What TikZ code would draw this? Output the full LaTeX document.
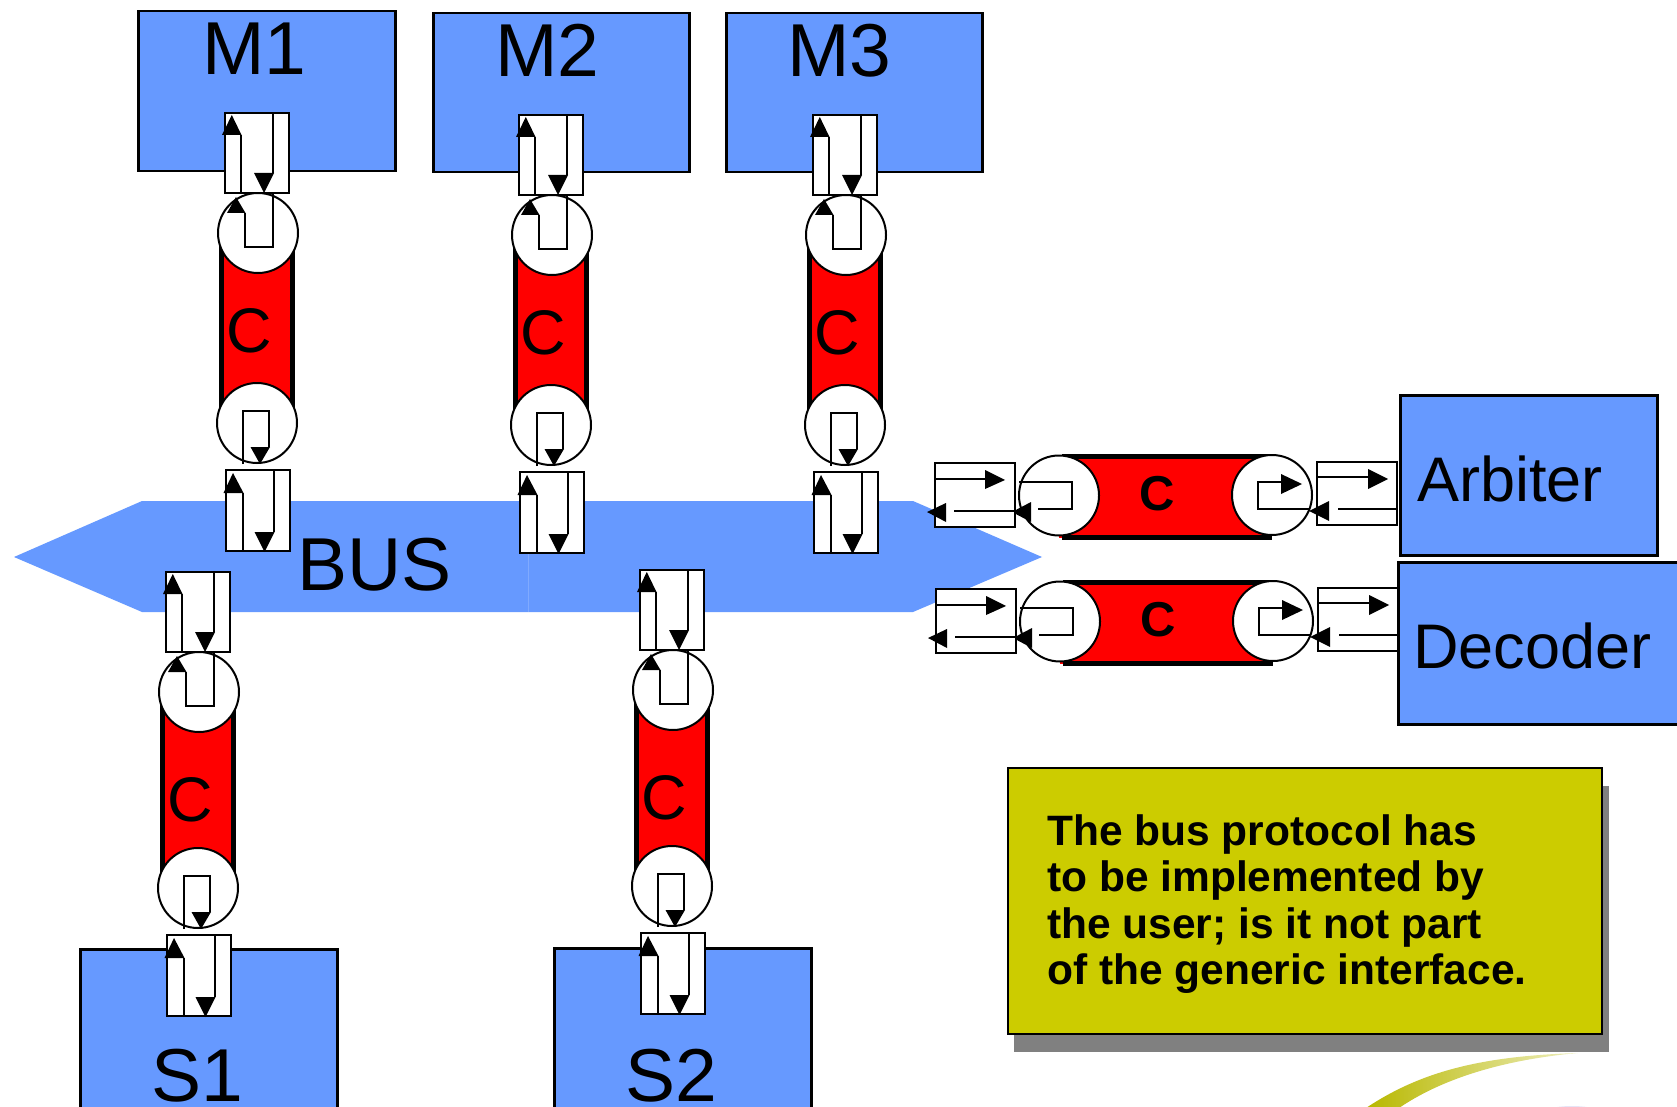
\documentclass[tikz,border=0pt]{standalone}
\usepackage{fontspec}
\setmainfont{Liberation Sans}

\definecolor{blockblue}{RGB}{102,153,255}
\definecolor{seamblue}{RGB}{128,170,255}
\definecolor{noteyellow}{RGB}{204,204,0}
\definecolor{shadowgray}{RGB}{128,128,128}
\definecolor{swoosholive}{RGB}{184,184,0}
\definecolor{swooshpale}{RGB}{238,238,190}
\definecolor{lavender}{RGB}{230,228,246}

\tikzset{
  block/.style={draw=black, line width=2.5pt, fill=blockblue, inner sep=0pt},
  portbox/.style={draw=black, line width=2pt, fill=white},
  wire/.style={draw=black, line width=2pt},
  endcap/.style={draw=black, line width=2pt, fill=white},
  bigname/.style={font=\fontsize{75}{80}\selectfont, inner sep=0pt},
  sidename/.style={font=\fontsize{63}{66}\selectfont, inner sep=0pt},
  chanlabel/.style={font=\fontsize{63}{66}\selectfont, inner sep=0pt},
  hchanlabel/.style={font=\fontsize{49}{52}\selectfont\bfseries, inner sep=0pt},
  notetext/.style={font=\fontsize{42.5}{46.5}\selectfont\bfseries, inner sep=0pt, align=left},
}

% Vertical channel: #1 label name, #2 centre x, #3 top of upper port,
% #4 offset of lower end cap, #5 offset of the label
\newcommand\vchan[5]{%
\begin{scope}[shift={(#2,#3)}]
  % cylinder body
  \fill[red] (-38,120) rectangle (38,#4);
  \draw[line width=5pt] (-35.5,120) -- (-35.5,#4) (35.5,120) -- (35.5,#4+4);
  % end caps
  \draw[endcap] (1,120) circle (40pt);
  \draw[endcap] (0,#4) circle (40pt);
  % upper cap: loop back
  \draw[wire] (16,80) -- (16,134) -- (-12.5,134) -- (-12.5,100);
  \fill (-30,100) -- (-11.5,100) -- (-21,84) -- cycle;
  % lower cap: loop forward
  \draw[wire] (-14,#4+41) -- (-14,#4-12) -- (12,#4-12) -- (12,#4+24);
  \fill (-6.5,#4+24) -- (13,#4+24) -- (3,#4+41) -- cycle;
  % upper port
  \draw[portbox] (-32,0) rectangle (32,80);
  \draw[wire] (-16.5,80) -- (-16.5,22);
  \fill (-35,22) -- (-15.5,22) -- (-25.2,2) -- cycle;
  \draw[wire] (16,0) -- (16,60);
  \fill (-3,60) -- (17,60) -- (7,80) -- cycle;
  % lower port
  \draw[portbox] (-31,#4+47) rectangle (33,#4+128);
  \draw[wire] (-14.5,#4+128) -- (-14.5,#4+70);
  \fill (-33.5,#4+70) -- (-13.5,#4+70) -- (-24,#4+50) -- cycle;
  \draw[wire] (16.5,#4+47) -- (16.5,#4+109);
  \fill (-2.5,#4+109) -- (17.5,#4+109) -- (7.5,#4+129) -- cycle;
  % label
  \node[chanlabel] (#1) at (-8,#5) {C};
\end{scope}}

% Horizontal channel: #1 label name, #2 #3 shift
\newcommand\hchan[3]{%
\begin{scope}[shift={(#2,#3)}]
  % cylinder body
  \fill[red] (1059,456) rectangle (1272,538);
  \draw[line width=5pt] (1062,456.5) -- (1272,456.5) (1062,537.5) -- (1272,537.5);
  % end caps
  \draw[endcap] (1059,495.5) circle (40pt);
  \draw[endcap] (1272,495) circle (40pt);
  \draw[wire] (1019,482) -- (1072,482) -- (1072,509) -- (1038,509);
  \fill (1031,502) -- (1031,522) -- (1012,512) -- cycle;
  \draw[wire] (1309,509) -- (1258,509) -- (1258,482) -- (1281,482);
  \fill (1281,474) -- (1281,494) -- (1302,484) -- cycle;
  % outer port
  \draw[portbox] (935,463) rectangle (1015,527);
  \draw[wire] (935,479) -- (985,479);
  \fill (985,470) -- (985,489) -- (1005,480) -- cycle;
  \draw[wire] (1015,511) -- (954,511);
  \fill (946,503) -- (946,522) -- (927,512) -- cycle;
  % inner port
  \draw[portbox] (1317,462) rectangle (1397,525);
  \draw[wire] (1317,477) -- (1368,477);
  \fill (1368,469) -- (1368,489) -- (1388,479) -- cycle;
  \draw[wire] (1397,509) -- (1338,509);
  \fill (1329,501) -- (1329,521) -- (1309,511) -- cycle;
  % label
  \node[hchanlabel] (#1) at (1157,494) {C};
\end{scope}}

\begin{document}
\begin{tikzpicture}[x=1pt, y=-1pt]
  \useasboundingbox (0,0) rectangle (1677,1107);
  \clip (0,0) rectangle (1677,1107);

  % the bus
  \fill[blockblue] (14,557) -- (142,501) -- (913,501) -- (1042,557)
                   -- (913,612) -- (142,612) -- cycle;
  \draw[seamblue, line width=1pt] (528,501) -- (528,612);
  \node[bigname, anchor=base west] (bus) at (297,590) {BUS};

  % modules
  \node[block, anchor=north west, minimum width=257pt, minimum height=160pt] (M1) at (137,10) {};
  \node[block, anchor=north west, minimum width=256pt, minimum height=159pt] (M2) at (432,12) {};
  \node[block, anchor=north west, minimum width=256pt, minimum height=159pt] (M3) at (725,12) {};
  \node[block, anchor=north west, minimum width=257pt, minimum height=200pt] (S1) at (79,948) {};
  \node[block, anchor=north west, minimum width=257pt, minimum height=200pt] (S2) at (553,947) {};
  \node[block, anchor=north west, minimum width=257pt, minimum height=160pt] (arb) at (1399,394) {};
  \node[block, anchor=north west, minimum width=320pt, minimum height=162pt] (dec) at (1397,561) {};

  \node[bigname, anchor=base west] (M1t) at (202,75) {M1};
  \node[bigname, anchor=base west] (M2t) at (495,77) {M2};
  \node[bigname, anchor=base west] (M3t) at (787,77) {M3};
  \node[bigname, anchor=base west] (S1t) at (151,1101) {S1};
  \node[bigname, anchor=base west] (S2t) at (625,1101) {S2};
  \node[sidename, anchor=base west] (arbt) at (1417,501) {Arbiter};
  \node[sidename, anchor=base west] (dect) at (1413,668) {Decoder};

  % channels
  \vchan{c1}{257}{113}{310}{218}
  \vchan{c2}{551}{115}{310}{218}
  \vchan{c3}{845}{115}{310}{218}
  \vchan{c4}{198}{572}{316}{228}
  \vchan{c5}{672}{570}{316}{228}
  \hchan{c6}{0}{0}
  \hchan{c7}{1}{126}

  % note
  \fill[shadowgray] (1014,786) rectangle (1609,1052);
  \node[draw=black, line width=2pt, fill=noteyellow, anchor=north west,
        minimum width=594pt, minimum height=266pt, inner sep=0pt] (note) at (1007,767) {};
  \node[notetext, anchor=north west] (notet) at (1047,814)
    {The bus protocol has\\to be implemented by\\the user; is it not part\\of the generic interface.};

  % swoosh
  \shade[left color=swoosholive, middle color=swoosholive, right color=swooshpale]
    (1366,1108) .. controls (1420,1072) and (1480,1056) .. (1578,1053)
    .. controls (1500,1060) and (1440,1080) .. (1399,1108) -- cycle;
  \fill[lavender] (1572,1116) ellipse (34pt and 10pt);
\end{tikzpicture}
\end{document}
